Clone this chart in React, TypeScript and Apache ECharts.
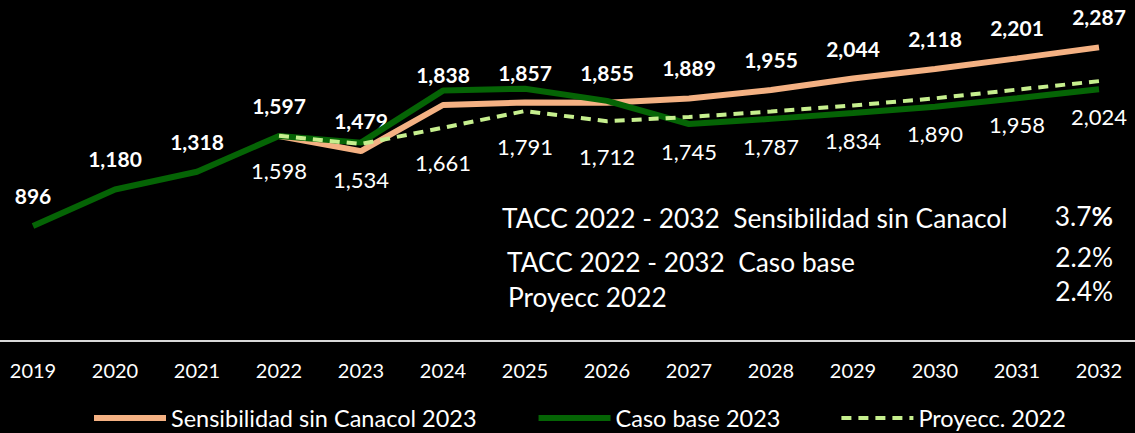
import React, { useEffect, useRef } from "react";
import * as echarts from "echarts";

const years = ["2019", "2020", "2021", "2022", "2023", "2024", "2025", "2026", "2027", "2028", "2029", "2030", "2031", "2032"];
const sensibilidad = [null, null, null, 1597, 1479, 1838, 1857, 1855, 1889, 1955, 2044, 2118, 2201, 2287];
const casoBase = [896, 1180, 1318, 1597, 1545, 1950, 1965, 1870, 1690, 1730, 1775, 1825, 1890, 1960];
const proyecc2022 = [null, null, null, 1598, 1534, 1661, 1791, 1712, 1745, 1787, 1834, 1890, 1958, 2024];
const seriesNames = ["Sensibilidad sin Canacol 2023", "Caso base 2023", "Proyecc. 2022"];
const taccLabels = ["TACC 2022 - 2032  Sensibilidad sin Canacol", "TACC 2022 - 2032  Caso base", "Proyecc 2022"];
const taccValues = ["3.7", "2.2", "2.4"];

const FONT = "Lato";
const fmt = (v: number) => v.toLocaleString("en-US");

export default function App() {
  const ref = useRef<HTMLDivElement>(null);
  useEffect(() => {
    const chart = echarts.init(ref.current!, null, { renderer: "svg" });
    const boldLabel = { show: true, position: "top", distance: 20, color: "#ffffff", fontFamily: FONT, fontSize: 21, fontWeight: "bold", formatter: (p: any) => fmt(p.value) };
    const hidden = { show: false };
    const taccY = [218, 262, 297];
    const pctY = [216, 257, 291];
    const taccX = [502, 507, 508];
    const graphic: any[] = [
      { type: "line", shape: { x1: 0, y1: 341, x2: 1135, y2: 341 }, style: { stroke: "#d9d9d9", lineWidth: 2 }, silent: true },
    ];
    taccLabels.forEach((t, i) => {
      graphic.push({ type: "text", x: taccX[i], y: taccY[i], style: { text: t, fill: "#ffffff", fontFamily: FONT, fontSize: 26.3, textAlign: "left", textVerticalAlign: "middle" } });
      graphic.push({
        type: "text", x: 1113, y: pctY[i],
        style: {
          text: i === 0 ? `{n|${taccValues[i]}}{b|%}` : `{n|${taccValues[i]}%}`,
          fill: "#ffffff", textAlign: "right", textVerticalAlign: "middle",
          rich: { n: { fill: "#ffffff", fontFamily: FONT, fontSize: 26.3 }, b: { fill: "#ffffff", fontFamily: FONT, fontSize: 26.3, fontWeight: "bold" } },
        },
      });
    });
    const common = { type: "line", symbol: "circle", symbolSize: 0, showSymbol: true, emphasis: { disabled: true } };
    chart.setOption({
      animation: false,
      backgroundColor: "#000000",
      textStyle: { fontFamily: FONT },
      grid: { left: 33, right: 36, top: 20, bottom: 92 },
      xAxis: {
        type: "category", data: years, boundaryGap: false,
        axisLine: { show: false }, axisTick: { show: false },
        axisLabel: { color: "#ffffff", fontFamily: FONT, fontSize: 20, margin: 19 },
      },
      yAxis: { type: "value", min: 0, max: 2500, show: false, splitLine: { show: false } },
      legend: {
        left: 86, top: 401, itemGap: 59, itemWidth: 72, itemHeight: 14,
        itemStyle: { opacity: 0 },
        textStyle: { color: "#ffffff", fontFamily: FONT, fontSize: 23.5 },
        data: [
          { name: seriesNames[0], lineStyle: { width: 6 } },
          { name: seriesNames[1], lineStyle: { width: 6 } },
          { name: seriesNames[2], lineStyle: { width: 4 } },
        ],
      },
      series: [
        {
          ...common, name: seriesNames[0], z: 2,
          lineStyle: { color: "#F4B183", width: 6 }, itemStyle: { color: "#F4B183" },
          data: sensibilidad.map((v, i) => ({ value: v, label: i >= 4 ? boldLabel : hidden })),
        },
        {
          ...common, name: seriesNames[1], z: 3,
          lineStyle: { color: "#056405", width: 6 }, itemStyle: { color: "#056405" },
          data: casoBase.map((v, i) => ({ value: v, label: i <= 3 ? boldLabel : hidden })),
        },
        {
          ...common, name: seriesNames[2], z: 4,
          lineStyle: { color: "#C6EF8E", width: 4, type: [10, 7] }, itemStyle: { color: "#C6EF8E" },
          label: { show: true, position: "bottom", distance: 24, color: "#ffffff", fontFamily: FONT, fontSize: 22, formatter: (p: any) => fmt(p.value) },
          data: proyecc2022,
        },
      ],
      graphic,
    });
    return () => chart.dispose();
  }, []);
  return <div ref={ref} style={{ position: "fixed", left: 0, top: 0, width: 1135, height: 433, background: "#000" }} />;
}
